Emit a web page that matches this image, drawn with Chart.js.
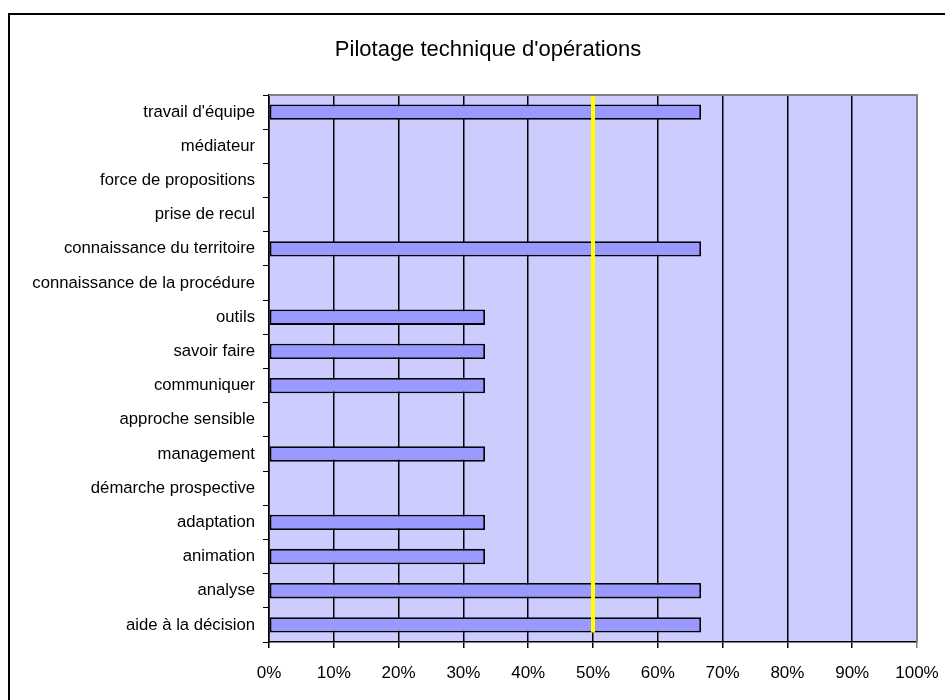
<!DOCTYPE html>
<html>
<head>
<meta charset="utf-8">
<script src="https://cdn.jsdelivr.net/npm/chart.js@4/dist/chart.umd.min.js"></script>
<style>
    html, body { margin: 0; padding: 0; background: #fff; }
    #wrap { width: 945px; height: 700px; overflow: hidden; }
</style>
</head>
<body>
<div id="wrap"><canvas id="chart" width="945" height="700"></canvas></div>
<script>
// Compétences (de haut en bas) et part des réponses en %
const competences = [
    "travail d'équipe",
    'médiateur',
    'force de propositions',
    'prise de recul',
    'connaissance du territoire',
    'connaissance de la procédure',
    'outils',
    'savoir faire',
    'communiquer',
    'approche sensible',
    'management',
    'démarche prospective',
    'adaptation',
    'animation',
    'analyse',
    'aide à la décision'
];
const pourcentages = [66.67, 0, 0, 0, 66.67, 0, 33.33, 33.33, 33.33, 0, 33.33, 0, 33.33, 33.33, 66.67, 66.67];
const seuil = 50;
const titre = "Pilotage technique d'opérations";

const police = 'Liberation Sans, Arial, sans-serif';

// fond de la zone de tracé, cadre extérieur et titre
const fondPlugin = {
    id: 'fond',
    beforeDraw(chart) {
        const { ctx, chartArea: a } = chart;
        ctx.save();
        ctx.fillStyle = '#CCCCFF';
        ctx.fillRect(a.left, a.top, a.right - a.left, a.bottom - a.top);
        ctx.strokeStyle = '#000';
        ctx.lineWidth = 2;
        ctx.strokeRect(9, 14, 1000, 1000);
        // le titre est centré sur le cadre, qui déborde à droite
        ctx.fillStyle = '#000';
        ctx.font = '22px ' + police;
        ctx.textAlign = 'center';
        ctx.textBaseline = 'middle';
        ctx.fillText(titre, 488, 50);
        ctx.restore();
    },
    afterDraw(chart) {
        const { ctx, chartArea: a } = chart;
        ctx.save();
        ctx.strokeStyle = '#808080';
        ctx.lineWidth = 2;
        ctx.beginPath();
        ctx.moveTo(a.left, a.top);
        ctx.lineTo(a.right, a.top);
        ctx.lineTo(a.right, a.bottom);
        ctx.stroke();
        ctx.restore();
    }
};

// ligne jaune du seuil à 50 %
const seuilPlugin = {
    id: 'seuil',
    afterDatasetsDraw(chart) {
        const { ctx, chartArea: a, scales } = chart;
        const x = scales.x.getPixelForValue(seuil);
        const meta = chart.getDatasetMeta(0);
        const dernier = meta.data[meta.data.length - 1];
        const bas = dernier.y + dernier.height / 2;
        ctx.save();
        ctx.strokeStyle = '#FFFF00';
        ctx.lineWidth = 4;
        ctx.beginPath();
        ctx.moveTo(x, a.top);
        ctx.lineTo(x, bas);
        ctx.stroke();
        ctx.restore();
    }
};

new Chart(document.getElementById('chart'), {
    type: 'bar',
    data: {
        labels: competences,
        datasets: [{
            data: pourcentages,
            backgroundColor: '#9999FF',
            borderColor: '#000',
            borderWidth: 1.8,
            borderSkipped: false,
            categoryPercentage: 1,
            barPercentage: 0.45
        }]
    },
    options: {
        indexAxis: 'y',
        responsive: false,
        animation: false,
        devicePixelRatio: 1,
        layout: { padding: { left: 10, right: 28, top: 95, bottom: 0 } },
        plugins: {
            legend: { display: false },
            tooltip: { enabled: false },
            title: { display: false }
        },
        scales: {
            x: {
                min: 0,
                max: 100,
                ticks: {
                    stepSize: 10,
                    color: '#000',
                    padding: 15,
                    font: { family: police, size: 17 },
                    callback: v => v + '%'
                },
                grid: {
                    color: c => (c.tick && c.tick.value === 100) ? '#808080' : '#000',
                    lineWidth: 1.5,
                    tickLength: 6
                },
                border: { color: '#000', width: 1.5 },
                afterFit(scale) {
                    scale.height = 58;
                    scale.paddingRight = 0;
                }
            },
            y: {
                ticks: {
                    color: '#000',
                    padding: 8,
                    autoSkip: false,
                    font: { family: police, size: 16.7 }
                },
                grid: {
                    drawOnChartArea: false,
                    color: '#000',
                    tickLength: 6
                },
                border: { color: '#000', width: 1.5 },
                afterFit(scale) { scale.width = 259; }
            }
        }
    },
    plugins: [fondPlugin, seuilPlugin]
});
</script>
</body>
</html>
